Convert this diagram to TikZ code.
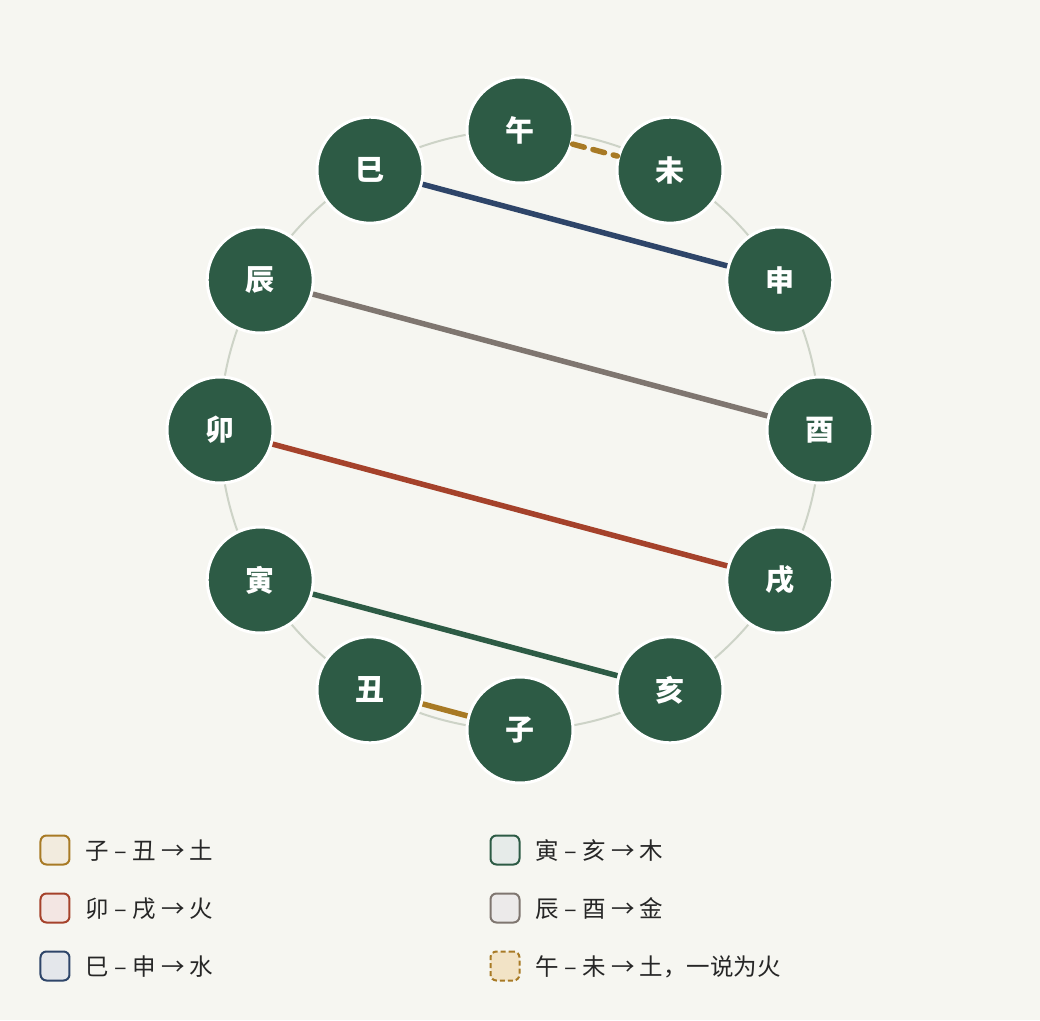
\documentclass[tikz,border=0pt]{standalone}
\usepackage{fontspec}
\newfontfamily\cjk{Noto Sans CJK SC}
\usepackage{tikz}
\usetikzlibrary{positioning}

\definecolor{bgcol}{HTML}{F6F6F1}
\definecolor{ringcol}{HTML}{CDD3C7}
\definecolor{nodegreen}{HTML}{2D5B45}
\definecolor{tugold}{HTML}{A87A25}
\definecolor{huored}{HTML}{A5422B}
\definecolor{shuiblue}{HTML}{2E4569}
\definecolor{jingray}{HTML}{7F7670}
\definecolor{wuweifill}{HTML}{F2E3C6}

\begin{document}
\begin{tikzpicture}[x=1pt,y=1pt,
  main node/.style={circle,draw=white,line width=3pt,fill=nodegreen,
    minimum size=106pt,inner sep=0pt,text=white,
    font=\cjk\bfseries\fontsize{29}{29}\selectfont},
  key box/.style={draw,rounded corners=6pt,minimum size=29pt,line width=2pt,inner sep=0pt},
  key text/.style={inner sep=0pt,text=black!85,font=\cjk\fontsize{23.5}{23.5}\selectfont}]

  \fill[bgcol] (-520,-590) rectangle (520,430);
  \useasboundingbox (-520,-590) rectangle (520,430);
  \draw[ringcol,line width=2pt] (0,0) circle (300pt);

  % the twelve branches
  \node[main node] (wu)   at (90:300)   {午};
  \node[main node] (wei)  at (60:300)   {未};
  \node[main node] (shen) at (30:300)   {申};
  \node[main node] (you)  at (0:300)    {酉};
  \node[main node] (xu)   at (-30:300)  {戌};
  \node[main node] (hai)  at (-60:300)  {亥};
  \node[main node] (zi)   at (-90:300)  {子};
  \node[main node] (chou) at (-120:300) {丑};
  \node[main node] (yin)  at (-150:300) {寅};
  \node[main node] (mao)  at (180:300)  {卯};
  \node[main node] (chen) at (150:300)  {辰};
  \node[main node] (si)   at (120:300)  {巳};

  \path[line width=5.5pt]
    (si)   edge[draw=shuiblue] (shen)
    (chen) edge[draw=jingray] (you)
    (mao)  edge[draw=huored] (xu)
    (yin)  edge[draw=nodegreen] (hai)
    (chou) edge[draw=tugold] (zi)
    (wu)   edge[draw=tugold,line cap=round,dash pattern=on 12pt off 9pt] (wei);

  % legend
  \node[key box,draw=tugold,fill=tugold!15] (k1) at (-465,-420) {};
  \node[key box,draw=huored,fill=huored!13] (k2) at (-465,-478) {};
  \node[key box,draw=shuiblue,fill=shuiblue!13] (k3) at (-465,-536) {};
  \node[key box,draw=nodegreen,fill=nodegreen!12] (k4) at (-15,-420) {};
  \node[key box,draw=jingray,fill=jingray!15] (k5) at (-15,-478) {};
  \node[key box,draw=tugold,fill=wuweifill,dash pattern=on 5pt off 3pt] (k6) at (-15,-536) {};

  \node[key text,right=15pt of k1,yshift=-1pt] {子 – 丑 → 土};
  \node[key text,right=15pt of k2,yshift=-1pt] {卯 – 戌 → 火};
  \node[key text,right=15pt of k3,yshift=-1pt] {巳 – 申 → 水};
  \node[key text,right=15pt of k4,yshift=-1pt] {寅 – 亥 → 木};
  \node[key text,right=15pt of k5,yshift=-1pt] {辰 – 酉 → 金};
  \node[key text,right=15pt of k6,yshift=-1pt] {午 – 未 → 土，一说为火};
\end{tikzpicture}
\end{document}
